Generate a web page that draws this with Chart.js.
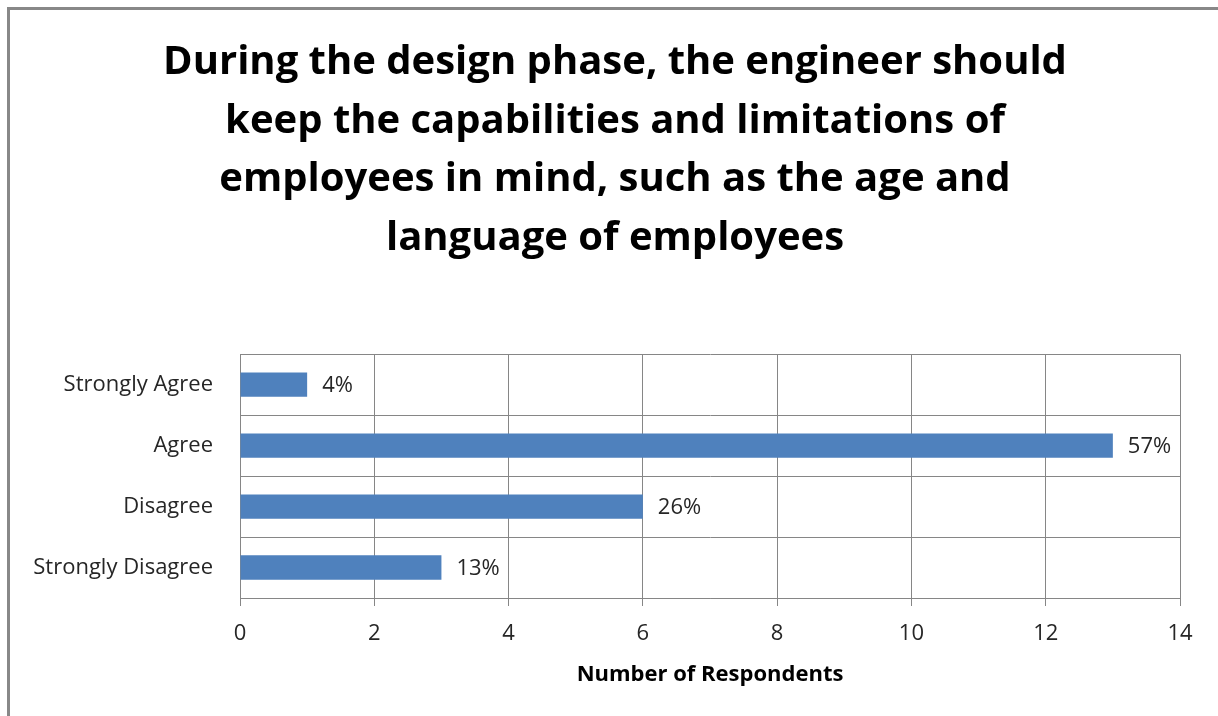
<!DOCTYPE html>
<html>
<head>
<meta charset="utf-8">
<script src="https://cdn.jsdelivr.net/npm/chart.js@4/dist/chart.umd.min.js"></script>
<style>
  body { margin: 0; background: #fff; }
  #frame { position: absolute; left: 7px; top: 7px; width: 1300px; height: 800px;
           border-left: 3px solid #888; border-top: 3px solid #888; }
  #wrap { position: absolute; left: 0; top: 0; width: 1218px; height: 716px; }
</style>
</head>
<body>
<div id="frame"></div>
<div id="wrap"><canvas id="surveyChart"></canvas></div>
<script>
//Survey answers, top to bottom as in the picture
const answers = ['Strongly Agree', 'Agree', 'Disagree', 'Strongly Disagree'];
const respondents = [1, 13, 6, 3];
const shares = ['4%', '57%', '26%', '13%'];
const titleLines = [
    'During the design phase, the engineer should',
    'keep the capabilities and limitations of',
    'employees in mind, such as the age and',
    'language of employees',
];

const fontFace = "'Open Sans', 'Noto Sans', sans-serif";
const lineGray = '#868686';

//Percent labels right of each bar
const shareLabels = {
    id: 'shareLabels',
    afterDatasetsDraw(chart) {
        const ctx = chart.ctx;
        const meta = chart.getDatasetMeta(0);
        ctx.save();
        ctx.font = '22px ' + fontFace;
        ctx.fillStyle = '#262626';
        ctx.textAlign = 'left';
        ctx.textBaseline = 'middle';
        meta.data.forEach((bar, i) => {
            ctx.fillText(shares[i], bar.x + 15, bar.y + 1);
        });
        ctx.restore();
    }
};

const surveyChart = new Chart(document.getElementById('surveyChart'), {
    type: 'bar',
    data: {
        labels: answers,
        datasets: [{
            label: 'Number of Respondents',
            data: respondents,
            backgroundColor: '#4F81BD',
            borderWidth: 0,
            categoryPercentage: 1,
            barPercentage: 0.4,
        }]
    },
    options: {
        indexAxis: 'y',
        responsive: true,
        maintainAspectRatio: false,
        animation: false,
        layout: { padding: { left: 12, right: 0, top: 0, bottom: 18 } },
        plugins: {
            legend: { display: false },
            tooltip: { enabled: false },
            title: {
                display: true,
                text: titleLines,
                color: '#000',
                font: { family: fontFace, size: 40, weight: 'bold', lineHeight: 1.47 },
                padding: { top: 33, bottom: 86 },
            },
        },
        scales: {
            x: {
                min: 0,
                max: 14,
                ticks: { stepSize: 2, color: '#262626', padding: 15, font: { family: fontFace, size: 22 } },
                grid: { color: lineGray, tickLength: 8, tickColor: lineGray },
                border: { color: lineGray },
                title: {
                    display: true,
                    text: 'Number of Respondents',
                    color: '#000',
                    font: { family: fontFace, size: 22, weight: 'bold' },
                    padding: { top: 0, bottom: 10 },
                },
                afterFit(scale) { scale.height = 100; },
            },
            y: {
                ticks: { color: '#262626', padding: 27, font: { family: fontFace, size: 22 } },
                grid: { color: lineGray, drawTicks: false, offset: true },
                border: { color: lineGray },
                afterFit(scale) { scale.width = 228; },
            },
            //empty spacer so the plot stops at the same right edge as the reference
            spacer: {
                type: 'category',
                labels: answers,
                position: 'right',
                axis: 'y',
                ticks: { display: false },
                grid: { display: false, drawTicks: false },
                border: { display: false },
                afterFit(scale) { scale.width = 38; },
            },
        },
    },
    plugins: [shareLabels],
});
</script>
</body>
</html>
